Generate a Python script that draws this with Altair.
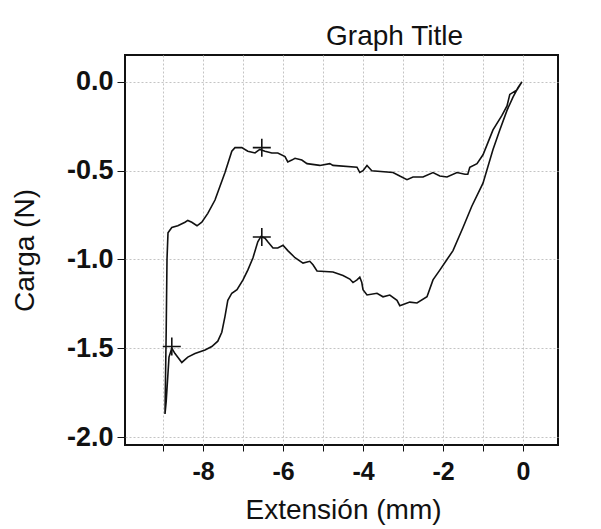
import altair as alt
import pandas as pd

# Lower branch: from top-right (0,0) down the steep line, then leftwards
lower_x = [-0.03, -0.13, -0.25, -0.40, -0.58, -0.75, -1.00, -1.28, -1.50, -1.75, -1.90, -2.08,
           -2.25, -2.40, -2.65, -2.83, -3.08, -3.15, -3.33, -3.50, -3.65, -3.90, -4.00, -4.03,
           -4.08, -4.15, -4.25, -4.33, -4.50, -4.75, -5.15, -5.25, -5.33, -5.50, -5.70, -5.88,
           -6.00, -6.13, -6.25, -6.38, -6.45, -6.55, -6.63, -6.75, -6.88, -7.00, -7.15, -7.28,
           -7.38, -7.45, -7.53, -7.63, -7.78, -7.95, -8.20, -8.38, -8.53, -8.70, -8.78]
lower_y = [0.00, -0.034, -0.085, -0.16, -0.27, -0.38, -0.57, -0.70, -0.82, -0.95, -1.00, -1.06,
           -1.115, -1.21, -1.245, -1.24, -1.26, -1.23, -1.20, -1.21, -1.19, -1.20, -1.17, -1.13,
           -1.10, -1.115, -1.13, -1.11, -1.09, -1.07, -1.065, -1.03, -1.01, -1.02, -0.99, -0.95,
           -0.92, -0.935, -0.935, -0.90, -0.88, -0.87, -0.90, -0.99, -1.06, -1.115, -1.17, -1.19,
           -1.23, -1.32, -1.41, -1.46, -1.49, -1.51, -1.53, -1.55, -1.58, -1.53, -1.50]

# Spike at the far left
spike_x = [-8.85, -8.92, -8.95, -8.92, -8.90]
spike_y = [-1.55, -1.80, -1.87, -1.40, -1.00]

# Upper branch: from the spike back to the top-right
upper_x = [-8.875, -8.78, -8.63, -8.45, -8.38, -8.28, -8.15, -8.03, -7.88, -7.70, -7.58, -7.45,
           -7.38, -7.28, -7.20, -7.03, -6.88, -6.70, -6.58, -6.45, -6.28, -6.13, -5.95, -5.88,
           -5.78, -5.70, -5.53, -5.40, -5.08, -4.83, -4.75, -4.15, -4.08, -4.00, -3.90, -3.78,
           -3.25, -3.08, -2.90, -2.75, -2.50, -2.25, -2.08, -1.90, -1.65, -1.45, -1.38, -1.33,
           -1.15, -1.00, -0.875, -0.75, -0.53, -0.40, -0.33, -0.15, -0.03]
upper_y = [-0.85, -0.82, -0.81, -0.79, -0.78, -0.79, -0.81, -0.79, -0.74, -0.665, -0.59, -0.51,
           -0.46, -0.39, -0.37, -0.37, -0.39, -0.40, -0.38, -0.39, -0.40, -0.40, -0.42, -0.45,
           -0.44, -0.43, -0.44, -0.46, -0.47, -0.46, -0.47, -0.48, -0.51, -0.50, -0.47, -0.50,
           -0.51, -0.53, -0.55, -0.535, -0.535, -0.51, -0.53, -0.535, -0.51, -0.52, -0.52, -0.48,
           -0.46, -0.41, -0.34, -0.27, -0.19, -0.135, -0.07, -0.045, 0.00]

marker_x = [-6.53, -6.53, -8.78]
marker_y = [-0.37, -0.873, -1.49]

y_ticks = [0.0, -0.5, -1.0, -1.5, -2.0]
x_ticks = [-9, -8, -7, -6, -5, -4, -3, -2, -1, 0]

xs = lower_x + spike_x + upper_x
ys = lower_y + spike_y + upper_y
curve = pd.DataFrame({"x": xs, "y": ys, "i": list(range(len(xs)))})
marks = pd.DataFrame({"x": marker_x, "y": marker_y})

FONT = "Liberation Sans"

x_scale = alt.Scale(domain=[-9.95, 0.875], nice=False, zero=False)
y_scale = alt.Scale(domain=[-2.045, 0.152], nice=False, zero=False)

x_axis = alt.Axis(
    values=x_ticks,
    labelExpr="datum.value % 2 == 0 ? (datum.value < 0 ? '-' + abs(datum.value) : '' + datum.value) : ''",
    title="Extensión (mm)", titleFont=FONT, titleFontSize=28, titleFontWeight="normal",
    titleColor="#111", titleX=218, titleY=73, titleBaseline="alphabetic", titleAlign="center",
    labelFont=FONT, labelFontSize=25, labelFontWeight="bold", labelColor="#111",
    labelPadding=8, tickSize=6, tickColor="#111", domain=False,
    grid=True, gridColor="#c4c4c4", gridDash=[2, 2], labelFlush=False, labelOverlap=False,
)
y_axis = alt.Axis(
    values=y_ticks,
    labelExpr="datum.value < 0 ? '-' + format(abs(datum.value), '.1f') : format(datum.value, '.1f')",
    title="Carga (N)", titleFont=FONT, titleFontSize=28, titleFontWeight="normal",
    titleColor="#111", titleX=-100, titleY=195, titleAngle=-90, titleAlign="center",
    titleBaseline="middle",
    labelFont=FONT, labelFontSize=27, labelFontWeight="bold", labelColor="#111",
    labelPadding=4, tickSize=8, tickColor="#111", domain=False,
    grid=True, gridColor="#c4c4c4", gridDash=[2, 2], labelFlush=False, labelOverlap=False,
)

line = alt.Chart(curve).mark_line(color="#111", strokeWidth=1.6).encode(
    x=alt.X("x:Q", scale=x_scale, axis=x_axis),
    y=alt.Y("y:Q", scale=y_scale, axis=y_axis),
    order=alt.Order("i:Q"),
)

crosses = alt.Chart(marks).mark_point(
    shape="M-1,0L1,0M0,-1L0,1", filled=False, size=324, strokeWidth=1.6, color="#111", opacity=1
).encode(
    x=alt.X("x:Q", scale=x_scale),
    y=alt.Y("y:Q", scale=y_scale),
)

chart = alt.layer(line, crosses).properties(
    width=433,
    height=390,
    background="white",
    title=alt.TitleParams("Graph Title", font=FONT, fontSize=28, fontWeight="normal",
                          color="#111", dx=53, dy=28, offset=10, baseline="alphabetic"),
    autosize=alt.AutoSizeParams(type="none"),
    padding={"left": 117, "top": 47, "right": 30, "bottom": 80},
).configure_view(stroke="#111", strokeWidth=2)

chart.save("out.html", embed_options={"renderer": "svg", "actions": False})
